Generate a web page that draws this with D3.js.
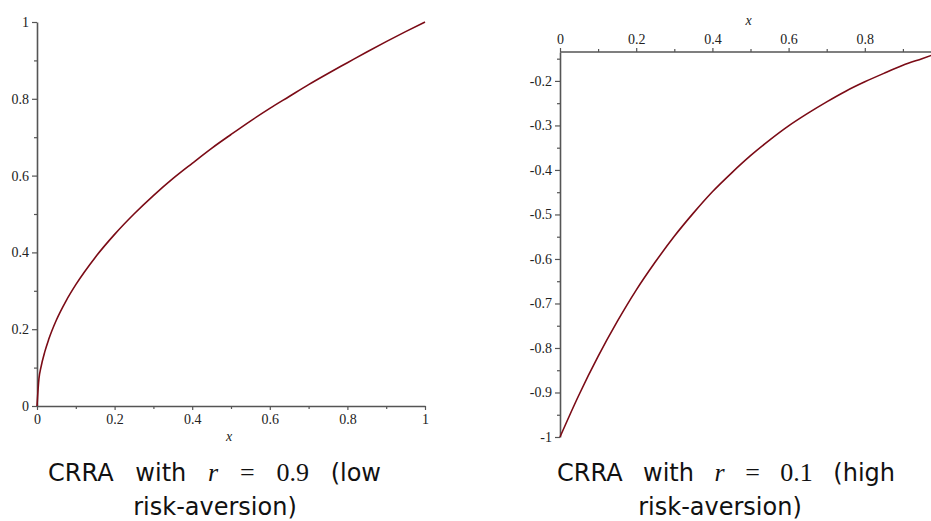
<!DOCTYPE html>
<html>
<head>
<meta charset="utf-8">
<script src="https://cdn.jsdelivr.net/npm/d3@7"></script>
<style>
  html, body { margin: 0; padding: 0; background: #fff; overflow: hidden; }
  svg { display: block; }
  .tick-label { font-family: "Liberation Serif", "DejaVu Serif", serif; font-size: 14px; fill: #222; }
  .axis-title { font-family: "Liberation Serif", serif; font-style: italic; font-size: 14px; fill: #222; }
  .cap { font-family: "DejaVu Sans", "Liberation Sans", sans-serif; font-size: 24px; fill: #111; }
  .math { font-family: "Liberation Serif", "DejaVu Serif", serif; font-size: 26px; fill: #111; }
</style>
</head>
<body>
<script>
// ---- Data ----
const leftX = [0, 0.005, 0.01, 0.02, 0.03, 0.05, 0.075, 0.1, 0.15, 0.2, 0.25, 0.3, 0.35, 0.4, 0.45, 0.5, 0.55, 0.6, 0.65, 0.7, 0.75, 0.8, 0.85, 0.9, 0.95, 1];
const leftY = [0, 0.071, 0.1, 0.141, 0.173, 0.224, 0.274, 0.316, 0.387, 0.447, 0.5, 0.548, 0.592, 0.632, 0.671, 0.707, 0.742, 0.775, 0.806, 0.837, 0.866, 0.894, 0.922, 0.949, 0.975, 1.0];

const rightX = [0, 0.05, 0.1, 0.15, 0.2, 0.25, 0.3, 0.35, 0.4, 0.45, 0.5, 0.55, 0.6, 0.65, 0.7, 0.75, 0.8, 0.85, 0.9, 0.95, 1];
const rightY = [-1, -0.905, -0.819, -0.741, -0.670, -0.607, -0.549, -0.497, -0.449, -0.407, -0.368, -0.333, -0.301, -0.273, -0.247, -0.223, -0.202, -0.183, -0.165, -0.150, -0.135];

const leftXTicks = [0, 0.2, 0.4, 0.6, 0.8, 1];
const leftXTickLabels = ["0", "0.2", "0.4", "0.6", "0.8", "1"];
const leftYTicks = [0, 0.2, 0.4, 0.6, 0.8, 1];
const leftYTickLabels = ["0", "0.2", "0.4", "0.6", "0.8", "1"];

const rightXTicks = [0, 0.2, 0.4, 0.6, 0.8];
const rightXTickLabels = ["0", "0.2", "0.4", "0.6", "0.8"];
const rightXMinor = [0.1, 0.3, 0.5, 0.7, 0.9];
const rightYTicks = [-1, -0.9, -0.8, -0.7, -0.6, -0.5, -0.4, -0.3, -0.2];
const rightYTickLabels = ["-1", "-0.9", "-0.8", "-0.7", "-0.6", "-0.5", "-0.4", "-0.3", "-0.2"];

const leftCaption = [["cap", "CRRA"], ["cap", "with"], ["mathi", "r"], ["math", "="], ["math", "0.9"], ["cap", "(low"]];
const leftCaption2 = "risk-aversion)";
const rightCaption = [["cap", "CRRA"], ["cap", "with"], ["mathi", "r"], ["math", "="], ["math", "0.1"], ["cap", "(high"]];
const rightCaption2 = "risk-aversion)";

// ---- Drawing ----
const W = 931, H = 521;
const svg = d3.select("body").append("svg").attr("width", W).attr("height", H);

const axisColor = "#555";
const lineColor = "#7b0b16";

function minorTicks(major) {
  const m = [];
  for (let i = 0; i < major.length - 1; i++) m.push((major[i] + major[i + 1]) / 2);
  return m;
}
function styleAxis(g) {
  g.select(".domain").attr("stroke", axisColor).attr("stroke-width", 1.6);
  g.selectAll(".tick line").attr("stroke", axisColor).attr("stroke-width", 1.2);
  g.selectAll(".tick text").attr("class", "tick-label").attr("fill", "#222");
}
function styleMinor(g) {
  g.select(".domain").remove();
  g.selectAll(".tick line").attr("stroke", axisColor).attr("stroke-width", 1.2);
}

// LEFT CHART
(function () {
  const x = d3.scaleLinear().domain([0, 1]).range([37, 425]);
  const y = d3.scaleLinear().domain([0, 1]).range([406, 22]);
  const g = svg.append("g");

  styleMinor(g.append("g").attr("transform", `translate(0,${y(0)})`)
    .call(d3.axisBottom(x).tickValues(minorTicks(leftXTicks)).tickSize(3).tickFormat("").tickSizeOuter(0)));
  styleMinor(g.append("g").attr("transform", `translate(${x(0)},0)`)
    .call(d3.axisLeft(y).tickValues(minorTicks(leftYTicks)).tickSize(3).tickFormat("").tickSizeOuter(0)));

  styleAxis(g.append("g").attr("transform", `translate(0,${y(0)})`)
    .call(d3.axisBottom(x).tickValues(leftXTicks).tickSize(4).tickSizeOuter(0).tickPadding(4)
      .tickFormat((d, i) => leftXTickLabels[i])));
  styleAxis(g.append("g").attr("transform", `translate(${x(0)},0)`)
    .call(d3.axisLeft(y).tickValues(leftYTicks).tickSize(5).tickSizeOuter(0).tickPadding(3)
      .tickFormat((d, i) => leftYTickLabels[i])));

  g.append("text").attr("class", "axis-title").attr("x", x(0.495)).attr("y", 441)
    .attr("text-anchor", "middle").text("x");

  const line = d3.line().x((d, i) => x(leftX[i])).y(d => y(d)).curve(d3.curveMonotoneX);
  g.append("path").datum(leftY).attr("d", line).attr("fill", "none")
    .attr("stroke", lineColor).attr("stroke-width", 1.6);
})();

// RIGHT CHART
(function () {
  const x = d3.scaleLinear().domain([0, 1]).range([560, 941]);
  const y = d3.scaleLinear().domain([-1, -0.135]).range([437, 52]);
  const g = svg.append("g");

  styleMinor(g.append("g").attr("transform", `translate(0,${y(-0.135)})`)
    .call(d3.axisTop(x).tickValues(rightXMinor).tickSize(3).tickFormat("").tickSizeOuter(0)));
  styleMinor(g.append("g").attr("transform", `translate(${x(0)},0)`)
    .call(d3.axisLeft(y).tickValues(minorTicks(rightYTicks).concat([-0.15])).tickSize(3).tickFormat("").tickSizeOuter(0)));

  const gx = g.append("g").attr("transform", `translate(0,${y(-0.135)})`)
    .call(d3.axisTop(x).tickValues(rightXTicks).tickSize(4).tickSizeOuter(0).tickPadding(4)
      .tickFormat((d, i) => rightXTickLabels[i]));
  styleAxis(gx);
  gx.select(".domain").attr("d", `M${x(0)},0H${x(1)}`);
  styleAxis(g.append("g").attr("transform", `translate(${x(0)},0)`)
    .call(d3.axisLeft(y).tickValues(rightYTicks).tickSize(5).tickSizeOuter(0).tickPadding(3)
      .tickFormat((d, i) => rightYTickLabels[i])));

  g.append("text").attr("class", "axis-title").attr("x", x(0.495)).attr("y", 25)
    .attr("text-anchor", "middle").text("x");

  const line = d3.line().x((d, i) => x(rightX[i])).y(d => y(d)).curve(d3.curveMonotoneX);
  g.append("path").datum(rightY).attr("d", line).attr("fill", "none")
    .attr("stroke", lineColor).attr("stroke-width", 1.6);
})();

// CAPTIONS (justified first line between x0 and x1, centred second line)
function caption(segs, line2, x0, x1, cx) {
  const g = svg.append("g");
  const b1 = 481, b2 = 515;
  const nodes = segs.map(([cls, txt]) => {
    const t = g.append("text").attr("y", b1).text(txt);
    if (cls === "mathi") t.attr("class", "math").attr("font-style", "italic");
    else t.attr("class", cls);
    return t;
  });
  const widths = nodes.map(n => n.node().getComputedTextLength());
  const total = d3.sum(widths);
  const gap = (x1 - x0 - total) / (segs.length - 1);
  let cur = x0;
  nodes.forEach((n, i) => { n.attr("x", cur); cur += widths[i] + gap; });
  g.append("text").attr("class", "cap").attr("x", cx).attr("y", b2).attr("text-anchor", "middle").text(line2);
}
caption(leftCaption, leftCaption2, 48, 381, 215);
caption(rightCaption, rightCaption2, 557, 895, 720);
</script>
</body>
</html>
